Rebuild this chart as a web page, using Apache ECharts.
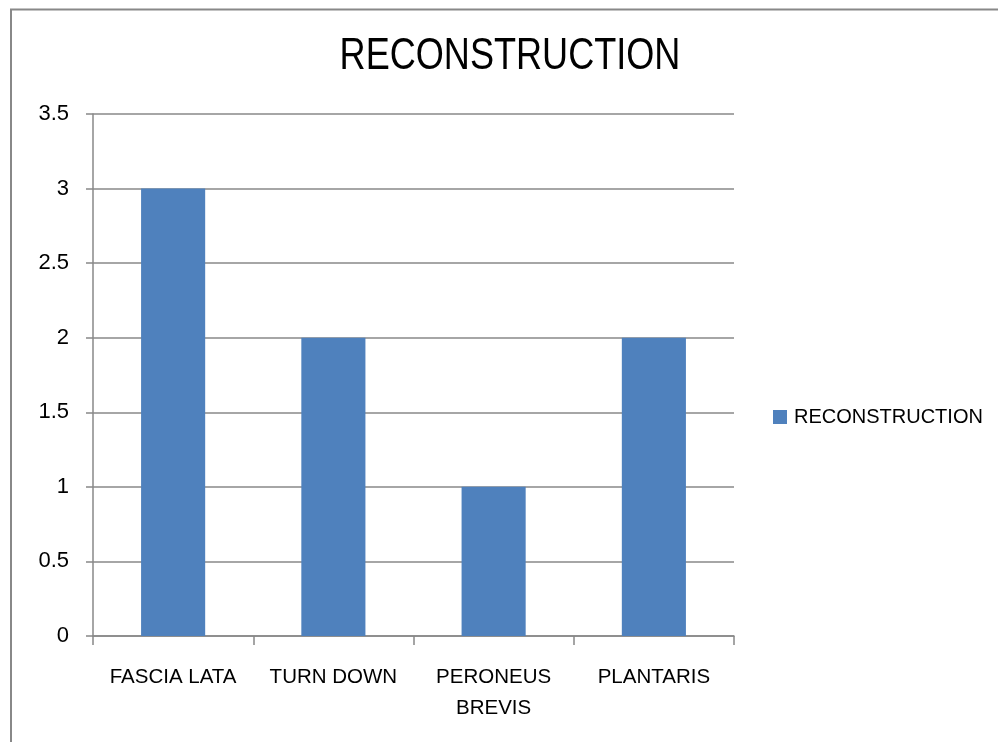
<!DOCTYPE html>
<html>
<head>
<meta charset="utf-8">
<style>
  html, body { margin: 0; padding: 0; background: #ffffff; }
  #chart { width: 998px; height: 742px; }
</style>
<script src="https://cdn.jsdelivr.net/npm/echarts@6/dist/echarts.min.js"></script>
</head>
<body>
<div id="chart"></div>
<script>
// Grafts used for reconstruction and how many cases each
const chartTitle = 'RECONSTRUCTION';
const categories = ['FASCIA LATA', 'TURN DOWN', 'PERONEUS\nBREVIS', 'PLANTARIS'];
const reconstruction = [3, 2, 1, 2];
const yTicks = [0, 0.5, 1, 1.5, 2, 2.5, 3, 3.5];

const FONT = '"Liberation Sans Narrow", "Liberation Sans", Arial, sans-serif';
const GRAY = '#888888';

const chart = echarts.init(document.getElementById('chart'), null, { renderer: 'canvas' });

chart.setOption({
  animation: false,
  backgroundColor: '#ffffff',
  textStyle: { fontFamily: FONT },
  graphic: [
    {
      // frame around the chart
      type: 'rect',
      silent: true,
      shape: { x: 11, y: 9.5, width: 1100, height: 900 },
      style: { fill: 'none', stroke: GRAY, lineWidth: 2 }
    },
    {
      // condensed heading
      type: 'text',
      silent: true,
      x: 510,
      y: 57,
      scaleX: 0.82,
      style: {
        text: chartTitle,
        fontFamily: FONT,
        fontSize: 44,
        fill: '#000000',
        align: 'center',
        verticalAlign: 'middle'
      }
    }
  ],
  legend: {
    data: ['RECONSTRUCTION'],
    orient: 'vertical',
    left: 773,
    top: 407,
    padding: 0,
    itemWidth: 14,
    itemHeight: 14,
    itemGap: 6,
    icon: 'rect',
    textStyle: { fontFamily: FONT, fontSize: 20, color: '#000000', padding: [0, 0, 0, 2] }
  },
  grid: { left: 93, right: 264, top: 114, bottom: 106, containLabel: false },
  xAxis: {
    type: 'category',
    data: categories,
    axisLine: { lineStyle: { color: GRAY, width: 1.5 } },
    axisTick: { show: true, length: 9, lineStyle: { color: GRAY, width: 1.5 } },
    axisLabel: {
      fontFamily: FONT, fontSize: 20.5, color: '#000000',
      margin: 26, lineHeight: 31, interval: 0
    },
    splitLine: { show: false }
  },
  yAxis: {
    type: 'value',
    min: yTicks[0],
    max: yTicks[yTicks.length - 1],
    interval: 0.5,
    axisLine: { show: true, lineStyle: { color: GRAY, width: 1.5 } },
    axisTick: { show: true, length: 7, lineStyle: { color: GRAY, width: 1.5 } },
    axisLabel: { fontFamily: FONT, fontSize: 22, color: '#000000', margin: 24 },
    splitLine: { show: true, lineStyle: { color: GRAY, width: 1.5 } }
  },
  series: [{
    name: 'RECONSTRUCTION',
    type: 'bar',
    data: reconstruction,
    barWidth: '40%',
    itemStyle: { color: '#4F81BD' }
  }]
});
</script>
</body>
</html>
